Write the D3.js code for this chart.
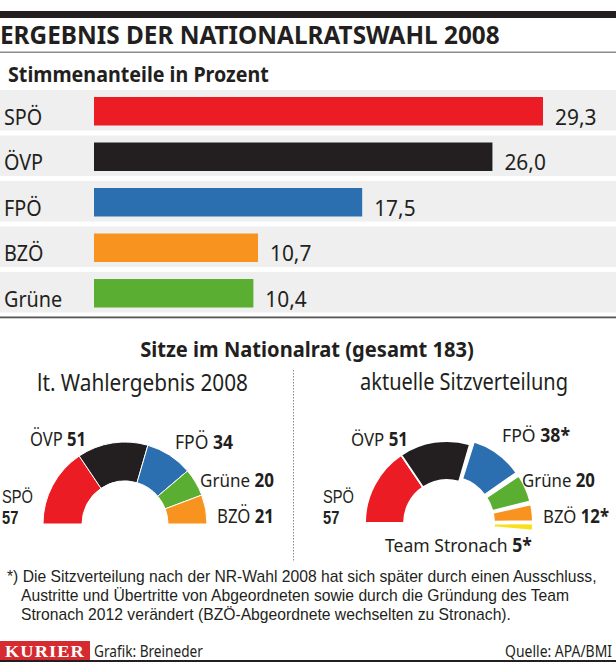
<!DOCTYPE html>
<html><head><meta charset="utf-8">
<script src="https://cdn.jsdelivr.net/npm/d3@7"></script>
<style>
html,body{margin:0;padding:0;background:#fff;}
svg{display:block;}
</style></head>
<body>
<svg id="c" width="616" height="662"></svg>
<script>
// ---- data ----
const voteParties = ["SPÖ", "ÖVP", "FPÖ", "BZÖ", "Grüne"];
const voteValues = [29.3, 26.0, 17.5, 10.7, 10.4];
const voteLabels = ["29,3", "26,0", "17,5", "10,7", "10,4"];

const seatParties2008 = ["SPÖ", "ÖVP", "FPÖ", "Grüne", "BZÖ"];
const seats2008 = [57, 51, 34, 20, 21];
const seatLabels2008 = ["57", "51", "34", "20", "21"];

const seatPartiesNow = ["SPÖ", "ÖVP", "FPÖ", "Grüne", "BZÖ", "Team Stronach"];
const seatsNow = [57, 51, 38, 20, 12, 5];
const seatLabelsNow = ["57", "51", "38*", "20", "12*", "5*"];

const footnoteLines = [
  "*) Die Sitzverteilung nach der NR-Wahl 2008 hat sich später durch einen Ausschluss,",
  "Austritte und Übertritte von Abgeordneten sowie durch die Gründung des Team",
  "Stronach 2012 verändert (BZÖ-Abgeordnete wechselten zu Stronach)."
];

const partyColors = {"SPÖ":"#ec1c24","ÖVP":"#231f20","FPÖ":"#2c6fb1","BZÖ":"#f7931e","Grüne":"#5aae32","Team Stronach":"#f6e11b"};

const FONT = "'Noto Sans','Open Sans',Roboto,sans-serif";
const TIGHT = "'Liberation Sans',Arial,sans-serif";
const svg = d3.select("#c");
const ink = "#231f20";

// squeeze a text horizontally (about its anchor point) so it spans width w
function fit(t, w) {
  const n = t.node();
  const L = n.getComputedTextLength();
  if (!L) return t;
  const x = +t.attr("x"), y = +t.attr("y");
  t.attr("transform", `translate(${x},${y}) scale(${w / L},1) translate(${-x},${-y})`);
  return t;
}
function squeeze(t, s) {
  const x = +t.attr("x"), y = +t.attr("y");
  t.attr("transform", `translate(${x},${y}) scale(${s},1) translate(${-x},${-y})`);
  return t;
}
function txt(x, y, s, size, weight, anchor, w) {
  const t = svg.append("text").attr("x", x).attr("y", y).text(s)
    .attr("font-family", FONT).attr("font-size", size).attr("font-weight", weight || "normal")
    .attr("fill", ink).attr("text-anchor", anchor || "start");
  if (w) fit(t, w);
  return t;
}

// ---- header ----
svg.append("rect").attr("x", 0).attr("y", 11).attr("width", 616).attr("height", 7).attr("fill", ink);
txt(0, 44, "ERGEBNIS DER NATIONALRATSWAHL 2008", 25, "bold", "start", 500);
svg.append("rect").attr("x", 0).attr("y", 51.5).attr("width", 616).attr("height", 1.5).attr("fill", "#8c8c8c");
txt(8, 82, "Stimmenanteile in Prozent", 21, "bold", "start", 261);

// ---- bars ----
const x = d3.scaleLinear().domain([0, 29.3]).range([94, 543]);
const y = d3.scaleBand().domain(voteParties).range([90, 317.5]);

const rows = svg.append("g").selectAll("g").data(voteParties).join("g");
rows.append("rect").attr("x", 0).attr("width", 616)
  .attr("y", d => y(d)).attr("height", y.bandwidth() - 5).attr("fill", "#efefef");
rows.append("rect").attr("x", x(0))
  .attr("y", d => y(d) + 7).attr("height", 28.5)
  .attr("width", (d, i) => x(voteValues[i]) - x(0))
  .attr("fill", d => partyColors[d]);
rows.append("text").attr("x", 4).attr("y", d => y(d) + 35)
  .attr("font-family", FONT).attr("font-size", 22).attr("fill", ink).text(d => d)
  .each(function () { squeeze(d3.select(this), 0.9); });
rows.append("text").attr("x", (d, i) => x(voteValues[i]) + 12).attr("y", d => y(d) + 35)
  .attr("font-family", FONT).attr("font-size", 22).attr("fill", ink).text((d, i) => voteLabels[i])
  .each(function () { squeeze(d3.select(this), 0.95); });

svg.append("rect").attr("x", 0).attr("y", 316.5).attr("width", 616).attr("height", 1.8).attr("fill", "#555");

// ---- seats ----
txt(307, 357, "Sitze im Nationalrat (gesamt 183)", 21, "bold", "middle", 334);
txt(142.5, 391, "lt. Wahlergebnis 2008", 23, "normal", "middle", 211);
txt(464, 390, "aktuelle Sitzverteilung", 23, "normal", "middle", 208);
svg.append("line").attr("x1", 293.5).attr("x2", 293.5).attr("y1", 370).attr("y2", 562)
  .attr("stroke", "#8a8a8a").attr("stroke-width", 1).attr("stroke-dasharray", "1.5,1.5");

const pie = d3.pie().sort(null).startAngle(-Math.PI / 2).endAngle(Math.PI / 2);
const arc = d3.arc().innerRadius(43).outerRadius(82);

function hemicycle(cx, cy, names, vals, explodeFrom, offset, gapDeg, strokeW) {
  const g = svg.append("g").attr("transform", `translate(${cx},${cy})`);
  const arcs = pie(vals);
  const gap = gapDeg * Math.PI / 180;
  if (explodeFrom != null) {
    arcs.forEach((d, i) => {
      if (i >= explodeFrom) {
        const k = i - explodeFrom + 1;
        d.startAngle += k * gap; d.endAngle += k * gap;
      }
    });
  }
  g.selectAll("path").data(arcs).join("path")
    .attr("d", arc)
    .attr("fill", (d, i) => partyColors[names[i]])
    .attr("stroke", "#fff").attr("stroke-width", strokeW)
    .attr("stroke-linejoin", "round")
    .attr("transform", (d, i) => {
      if (explodeFrom == null || i < explodeFrom) return null;
      const a = (d.startAngle + d.endAngle) / 2;
      return `translate(${Math.sin(a) * offset},${-Math.cos(a) * offset})`;
    });
  return g;
}

function label(px, py, name, val, w) {
  const t = svg.append("text").attr("x", px).attr("y", py)
    .attr("font-family", FONT).attr("font-size", 19).attr("fill", ink);
  t.append("tspan").text(name + " ");
  t.append("tspan").attr("font-weight", "bold").text(val);
  fit(t, w);
  return t;
}
// two-line label (name above, bold number below)
function stacked(px, py1, py2, name, val, w) {
  const t = svg.append("text").attr("font-family", TIGHT).attr("font-size", 18).attr("fill", ink);
  const a = t.append("tspan").attr("x", px).attr("y", py1).text(name);
  const b = t.append("tspan").attr("x", px).attr("y", py2).attr("font-weight", "bold").text(val);
  const s = w / a.node().getComputedTextLength();
  a.attr("x", px / s); b.attr("x", px / s);
  t.attr("transform", `scale(${s},1)`);
  return t;
}

// left
hemicycle(125, 524, seatParties2008, seats2008, null, 0, 0, 1);
stacked(2, 503.5, 524, seatParties2008[0], seatLabels2008[0], 31);
label(30, 446, seatParties2008[1], seatLabels2008[1], 56);
label(175, 449, seatParties2008[2], seatLabels2008[2], 58);
label(200, 487, seatParties2008[3], seatLabels2008[3], 74);
label(217, 523, seatParties2008[4], seatLabels2008[4], 57);

// right
hemicycle(447, 523, seatPartiesNow, seatsNow, 2, 4, 1.3, 1.8);
stacked(323, 503.5, 524, seatPartiesNow[0], seatLabelsNow[0], 31);
label(351, 446, seatPartiesNow[1], seatLabelsNow[1], 57);
label(502, 442, seatPartiesNow[2], seatLabelsNow[2], 68);
label(522, 487, seatPartiesNow[3], seatLabelsNow[3], 73);
label(543, 523, seatPartiesNow[4], seatLabelsNow[4], 66);
label(385, 552, seatPartiesNow[5], seatLabelsNow[5], 147);

// ---- footnote (one text element, three lines) ----
{
  const lineX = [7, 21, 21], lineY = [582, 601, 620];
  const t = svg.append("text").attr("font-family", TIGHT).attr("font-size", 16.8).attr("fill", ink);
  const spans = footnoteLines.map((s, i) => t.append("tspan").attr("x", lineX[i]).attr("y", lineY[i]).text(s));
  const s = 589 / spans[0].node().getComputedTextLength();
  spans.forEach((sp, i) => sp.attr("x", lineX[i] / s));
  t.attr("transform", `scale(${s},1)`);
}

// ---- footer ----
svg.append("rect").attr("x", 0).attr("y", 641).attr("width", 90).attr("height", 19).attr("fill", "#d52b30");
const kur = svg.append("text").attr("x", 5).attr("y", 657)
  .attr("font-family", "'Liberation Serif','DejaVu Serif',serif").attr("font-weight", "bold")
  .attr("font-size", 17).attr("fill", "#fff").attr("letter-spacing", 1).text("KURIER");
fit(kur, 80);
txt(94, 657, "Grafik: Breineder", 17, "normal", "start", 109);
txt(612, 657, "Quelle: APA/BMI", 17, "normal", "end", 107);
svg.append("rect").attr("x", 0).attr("y", 660).attr("width", 616).attr("height", 2).attr("fill", ink);
</script>
</body></html>
